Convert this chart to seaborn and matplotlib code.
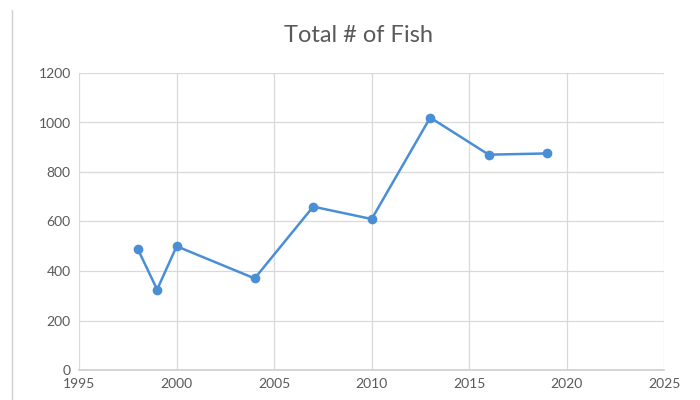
import matplotlib
matplotlib.use("Agg")
import matplotlib.pyplot as plt
import seaborn as sns
import pandas as pd

# data
years = [1998, 1999, 2000, 2004, 2007, 2010, 2013, 2016, 2019]
fish_total = [490, 325, 500, 370, 660, 610, 1020, 870, 875]

x_ticks = [1995, 2000, 2005, 2010, 2015, 2020, 2025]
y_ticks = [0, 200, 400, 600, 800, 1000, 1200]

df = pd.DataFrame({"year": years, "fish": fish_total})

sns.set_theme(style="white")
plt.rcParams["font.family"] = ["Lato", "DejaVu Sans"]

fig = plt.figure(figsize=(7, 4), dpi=100)
ax = fig.add_axes([0.113, 0.075, 0.836, 0.7425])

sns.lineplot(data=df, x="year", y="fish", ax=ax, color="#4a8fd6",
             marker="o", markersize=7, markeredgewidth=0, linewidth=1.8)

ax.set_xlim(x_ticks[0], x_ticks[-1])
ax.set_ylim(y_ticks[0], y_ticks[-1])
ax.set_xticks(x_ticks)
ax.set_yticks(y_ticks)
ax.grid(True, color="#d9d9d9", linewidth=0.9)
ax.set_axisbelow(True)
for s in ["top", "right", "left"]:
    ax.spines[s].set_visible(False)
ax.spines["bottom"].set_color("#d0d0d0")
ax.tick_params(axis="both", length=0, labelsize=10, labelcolor="#595959", pad=6)
ax.set_xlabel("")
ax.set_ylabel("")

fig.text(0.512, 0.91, "Total # of Fish", ha="center", va="center",
         fontsize=17, color="#595959")

# thin frame edge on the left like the screenshot
fig.add_artist(plt.Line2D([0.017, 0.017], [0.0, 0.975], color="#d0d0d0",
                          linewidth=1.0, transform=fig.transFigure))

fig.savefig("out.png", dpi=100)
